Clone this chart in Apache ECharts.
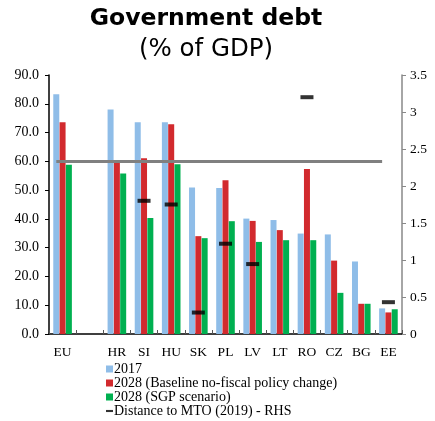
<!DOCTYPE html>
<html><head><meta charset="utf-8">
<script src="https://cdn.jsdelivr.net/npm/echarts@6/dist/echarts.min.js"></script>
<style>html,body{margin:0;padding:0;background:#fff}#c{width:435px;height:421px}</style>
</head><body><div id="c"></div>
<script>
const categories = ['EU', '', 'HR', 'SI', 'HU', 'SK', 'PL', 'LV', 'LT', 'RO', 'CZ', 'BG', 'EE'];
const debt2017 = [83.3, null, 78.0, 73.6, 73.6, 50.9, 50.7, 40.1, 39.6, 34.9, 34.6, 25.2, 8.9];
const debt2028Baseline = [73.6, null, 59.5, 61.1, 72.9, 34.0, 53.4, 39.3, 36.1, 57.3, 25.5, 10.5, 7.5];
const debt2028SGP = [58.8, null, 55.8, 40.3, 59.0, 33.3, 39.2, 32.0, 32.6, 32.6, 14.3, 10.5, 8.6];
const distanceMTO = [null, null, null, 1.80, 1.75, 0.29, 1.22, 0.945, null, 3.20, null, null, 0.43];
const threshold = 60;
const leftTicks = {min: 0, max: 90, interval: 10};
const rightTicks = {min: 0, max: 3.5, interval: 0.5};

const serif = 'Liberation Serif';
const chart = echarts.init(document.getElementById('c'), null, {renderer: 'canvas'});
chart.setOption({
  animation: false,
  title: [
    {text: 'Government debt', left: 206, top: 7, textAlign: 'center', padding: 0,
     textStyle: {fontFamily: 'DejaVu Sans', fontWeight: 'bold', fontSize: 23.5, color: '#000'}},
    {text: '(% of GDP)', left: 206, top: 37, textAlign: 'center', padding: 0,
     textStyle: {fontFamily: 'DejaVu Sans', fontWeight: 'normal', fontSize: 24.5, color: '#000'}}
  ],
  legend: {
    orient: 'vertical', left: 106, top: 362, height: 80, itemWidth: 7, itemHeight: 7, itemGap: 0,
    padding: 0,
    textStyle: {fontFamily: serif, fontSize: 14, lineHeight: 14, color: '#000', padding: [0, 0, 0, -4]},
    data: [
      {name: '2017', icon: 'rect'},
      {name: '2028 (Baseline no-fiscal policy change)', icon: 'rect'},
      {name: '2028 (SGP scenario)', icon: 'rect'},
      {name: 'Distance to MTO (2019) - RHS', icon: 'path://M0,0 L10,0 L10,3 L0,3 Z'}
    ]
  },
  grid: {left: 49, right: 33, top: 75, bottom: 87},
  xAxis: {
    type: 'category', data: categories,
    axisLine: {lineStyle: {color: '#000', width: 1.5}},
    axisTick: {show: true, inside: true, length: 4, lineStyle: {color: '#555'}},
    axisLabel: {fontFamily: serif, fontSize: 13.5, color: '#000', margin: 11, interval: 0}
  },
  yAxis: [
    {type: 'value', min: leftTicks.min, max: leftTicks.max, interval: leftTicks.interval,
     splitLine: {show: false},
     axisLine: {show: true, lineStyle: {color: '#000', width: 1.5}},
     axisTick: {show: true, length: 4, lineStyle: {color: '#000'}},
     axisLabel: {fontFamily: serif, fontSize: 14, color: '#000', margin: 10,
       formatter: v => v.toFixed(1)}},
    {type: 'value', min: rightTicks.min, max: rightTicks.max, interval: rightTicks.interval,
     splitLine: {show: false},
     axisLine: {show: true, lineStyle: {color: '#888', width: 1.5}},
     axisTick: {show: true, length: 4, lineStyle: {color: '#888'}},
     axisLabel: {fontFamily: serif, fontSize: 13.5, color: '#000', margin: 8}}
  ],
  series: [
    {name: '2017', type: 'bar', data: debt2017, barWidth: 6, barGap: '5%',
     itemStyle: {color: '#8fbde8'},
     markLine: {silent: true, symbol: 'none', label: {show: false},
       lineStyle: {color: '#808080', width: 3, type: 'solid'},
       data: [[{coord: ['EU', threshold]}, {coord: ['EE', threshold]}]]}},
    {name: '2028 (Baseline no-fiscal policy change)', type: 'bar', data: debt2028Baseline, barWidth: 6,
     itemStyle: {color: '#d22a2e'}},
    {name: '2028 (SGP scenario)', type: 'bar', data: debt2028SGP, barWidth: 6,
     itemStyle: {color: '#00b050'}},
    {name: 'Distance to MTO (2019) - RHS', type: 'scatter', yAxisIndex: 1, data: distanceMTO,
     symbol: 'rect', symbolSize: [13, 4], itemStyle: {color: '#000'}, z: 5}
  ]
});
</script></body></html>
